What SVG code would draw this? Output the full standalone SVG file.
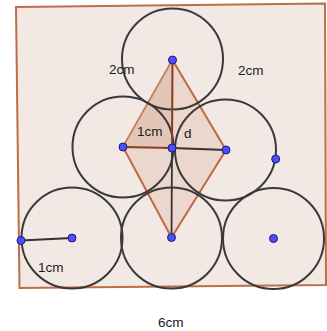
<svg xmlns="http://www.w3.org/2000/svg" width="327" height="331" viewBox="0 0 327 331">
<style>
.bg{fill:#f3e9e4;stroke:#bd6e47;stroke-width:2}
.c{fill:none;stroke:#3a3a3a;stroke-width:2}
.kite{fill:#e8d2c7;fill-opacity:0.8;stroke:#bf6a40;stroke-width:2}
.tri{fill:#dcbcac;fill-opacity:0.6;stroke:none}
.dk{stroke:#8a3d1e;stroke-width:2;fill:none}
.bk{stroke:#333;stroke-width:1.8;fill:none}
.pt{fill:#4d4dff;stroke:#1c1c70;stroke-width:1}
text{font-family:"Liberation Sans",Arial,sans-serif;font-size:13.5px;fill:#1a1a1a}
</style>
<rect width="327" height="331" fill="#ffffff"/>
<g id="board"><polygon class="bg" points="16,7 325,3.5 326,285 19.5,288"/></g>
<g id="shapes">
<polygon class="kite" points="172.5,60 123,147 171.5,237.5 226,150"/>
<polygon class="tri" points="172.5,60 123,147 172,148"/>
</g>
<g id="circles">
<circle id="c-top" class="c" cx="172.5" cy="59" r="50.5"/>
<circle id="c-ml" class="c" cx="123" cy="147" r="50.5"/>
<circle id="c-mr" class="c" cx="225.5" cy="150" r="50.5"/>
<circle id="c-bl" class="c" cx="72" cy="238" r="50.5"/>
<circle id="c-bm" class="c" cx="171.5" cy="238" r="50.5"/>
<circle id="c-br" class="c" cx="273.5" cy="238.5" r="50.5"/>
</g>
<g id="connectors">
<line class="dk" x1="172.5" y1="60" x2="172" y2="148"/>
<line class="dk" x1="123" y1="147" x2="172" y2="148"/>
<line class="bk" x1="172" y1="148" x2="226" y2="150"/>
<line class="bk" x1="172" y1="148" x2="171.5" y2="237.5"/>
<line class="bk" x1="21" y1="240.5" x2="72" y2="238"/>
</g>
<g id="points">
<circle class="pt" cx="172.5" cy="60" r="4"/>
<circle class="pt" cx="123" cy="147" r="4"/>
<circle class="pt" cx="172" cy="148" r="4"/>
<circle class="pt" cx="226" cy="150" r="4"/>
<circle class="pt" cx="275.7" cy="159" r="4"/>
<circle class="pt" cx="21" cy="240.5" r="4"/>
<circle class="pt" cx="72" cy="238" r="4"/>
<circle class="pt" cx="171.5" cy="237.5" r="4"/>
<circle class="pt" cx="273.5" cy="238.5" r="4"/>
</g>
<g id="labels">
<text x="109" y="74">2cm</text>
<text x="238" y="75">2cm</text>
<text x="137" y="136">1cm</text>
<text x="184" y="138">d</text>
<text x="38" y="272">1cm</text>
<text x="158" y="327">6cm</text>
</g>
</svg>
